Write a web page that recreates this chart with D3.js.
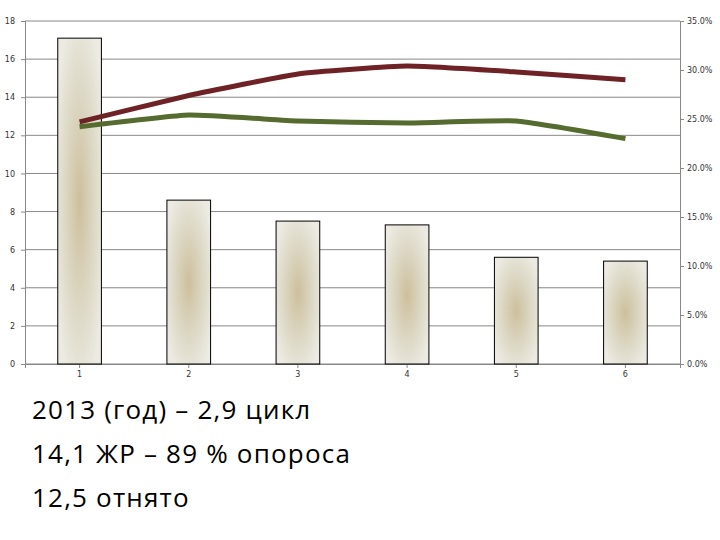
<!DOCTYPE html><html><head><meta charset="utf-8"><script src="https://cdn.jsdelivr.net/npm/d3@7"></script>
<style>body{margin:0;background:#fff}</style></head><body><svg id="c" width="720" height="540"></svg><script>
const categories=["1","2","3","4","5","6"];
const bars=[17.1,8.6,7.5,7.3,5.6,5.4];
const redPct=[24.7,27.4,29.6,30.4,29.8,29.0];
const greenPct=[24.2,25.4,24.8,24.6,24.8,23.0];
const leftTicks=[0,2,4,6,8,10,12,14,16,18];
const rightTicks=[0,5,10,15,20,25,30,35];
const texts=["2013 (год) – 2,9 цикл","14,1 ЖР – 89 % опороса","12,5 отнято"];
const svg=d3.select("#c");
const L=25,R=680,T=21,B=364;
const x=d3.scaleBand().domain(categories).range([L,R]).paddingInner(0.6).paddingOuter(0.3);
const y=d3.scaleLinear().domain([0,18]).range([B,T]);
const y2=d3.scaleLinear().domain([0,35]).range([B,T]);
const defs=svg.append("defs");
const g=defs.append("radialGradient").attr("id","bg").attr("cx","0.5").attr("cy","0.5").attr("r","0.6");
g.append("stop").attr("offset","0").attr("stop-color","#cdbf9c");
g.append("stop").attr("offset","0.6").attr("stop-color","#dedac8");
g.append("stop").attr("offset","1").attr("stop-color","#eceae2");
svg.append("g").selectAll("line").data(leftTicks).join("line").attr("x1",L).attr("x2",R).attr("y1",d=>y(d)).attr("y2",d=>y(d)).attr("stroke","#888").attr("stroke-width",1);
const la=svg.append("g").attr("transform",`translate(${L},0)`).call(d3.axisLeft(y).tickValues(leftTicks).tickSize(4));
const ra=svg.append("g").attr("transform",`translate(${R},0)`).call(d3.axisRight(y2).tickValues(rightTicks).tickSize(4).tickFormat(d=>d.toFixed(1)+"%"));
const ba=svg.append("g").attr("transform",`translate(0,${B})`).call(d3.axisBottom(x).tickSize(4));
[la,ra,ba].forEach(a=>{a.selectAll("path,line").attr("stroke","#888");a.selectAll("text").attr("font-family","DejaVu Sans").attr("font-size",8).attr("fill","#333");});
la.selectAll("text").attr("x",-10);
svg.append("g").selectAll("rect").data(bars).join("rect").attr("x",(d,i)=>x(categories[i])).attr("width",x.bandwidth()).attr("y",d=>y(d)).attr("height",d=>B-y(d)).attr("fill","url(#bg)").attr("stroke","#000").attr("stroke-width",1);
const line=d3.line().x((d,i)=>x(categories[i])+x.bandwidth()/2).y(d=>y2(d)).curve(d3.curveCardinal.tension(0.6));
svg.append("path").attr("d",line(greenPct)).attr("fill","none").attr("stroke","#556b2f").attr("stroke-width",5);
svg.append("path").attr("d",line(redPct)).attr("fill","none").attr("stroke","#6e2226").attr("stroke-width",5);
svg.append("g").selectAll("text").data(texts).join("text").attr("x",32).attr("y",(d,i)=>419+i*44).text(d=>d).attr("font-family","Open Sans, DejaVu Sans").attr("font-size",26).attr("letter-spacing",1.2).attr("fill","#000");
</script></body></html>
